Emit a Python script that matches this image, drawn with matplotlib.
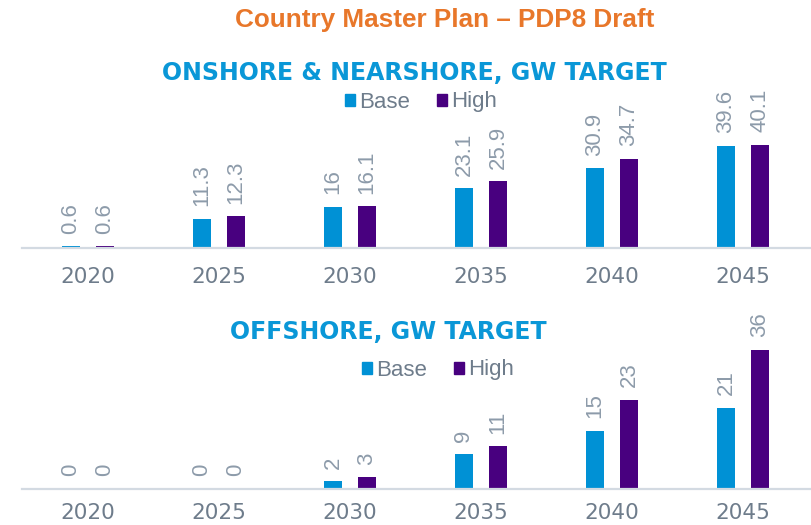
import matplotlib
matplotlib.use('Agg')
import matplotlib.pyplot as plt
import numpy as np


# Data
years = ['2020', '2025', '2030', '2035', '2040', '2045']
onshore_base = [0.6, 11.3, 16, 23.1, 30.9, 39.6]
onshore_high = [0.6, 12.3, 16.1, 25.9, 34.7, 40.1]
offshore_base = [0, 0, 2, 9, 15, 21]
offshore_high = [0, 0, 3, 11, 23, 36]

title = 'Country Master Plan \u2013 PDP8 Draft'
sub_top = 'ONSHORE & NEARSHORE, GW TARGET'
sub_bottom = 'OFFSHORE, GW TARGET'

# Styles
base_color = '#0091D5'
high_color = '#48007F'
label_gray = '#8D9BAA'
tick_gray = '#6E7C8B'
axis_gray = '#D3DAE2'
title_orange = '#E8772A'
sub_blue = '#0A97D7'

plt.rcParams['font.family'] = ['Liberation Sans', 'DejaVu Sans']

fig = plt.figure(figsize=(8.11, 5.25), dpi=100)
W, H = 811, 525


def add_panel(bottom_px, height_px, ymax, base, high, pad):
    ax = fig.add_axes([22 / W, (H - bottom_px) / H, 1 - 22 / W, height_px / H])
    x = np.arange(len(years))
    off = 17 / 131
    bw = 18 / 131
    b1 = ax.bar(x - off, base, bw, color=base_color)
    b2 = ax.bar(x + off, high, bw, color=high_color)
    for bars, vals in ((b1, base), (b2, high)):
        for rect, v in zip(bars, vals):
            ax.annotate(f'{v:g}', (rect.get_x() + rect.get_width() / 2, rect.get_height()),
                        xytext=(0, 9), textcoords='offset points', rotation=90,
                        ha='center', va='bottom', fontsize=16, color=label_gray,
                        annotation_clip=False)
    ax.set_xlim(-66 / 131, -66 / 131 + 789 / 131)
    ax.set_ylim(0, ymax)
    for s in ['top', 'right', 'left']:
        ax.spines[s].set_visible(False)
    ax.spines['bottom'].set_color(axis_gray)
    ax.spines['bottom'].set_linewidth(1.6)
    ax.set_yticks([])
    ax.set_xticks(x)
    ax.set_xticklabels(years, fontsize=15.5, color=tick_gray, family=['DejaVu Sans'])
    ax.tick_params(axis='x', length=0, pad=pad)
    ax.patch.set_alpha(0)
    return ax


ax1 = add_panel(248, 116, 45, onshore_base, onshore_high, 14)
ax2 = add_panel(489, 155, 40, offshore_base, offshore_high, 10)

fig.text(445 / W, 1 - 20 / H, title, ha='center', va='center', fontsize=18.8,
         fontweight='bold', color=title_orange)
fig.text(414 / W, 1 - 73 / H, sub_top, ha='center', va='center', fontsize=17,
         fontweight='bold', color=sub_blue, family=['DejaVu Sans'])
fig.text(388 / W, 1 - 332 / H, sub_bottom, ha='center', va='center', fontsize=17,
         fontweight='bold', color=sub_blue, family=['DejaVu Sans'])


def legend_at(y_px, x_px):
    handles = [plt.Rectangle((0, 0), 1, 1, color=base_color),
               plt.Rectangle((0, 0), 1, 1, color=high_color)]
    fig.legend(handles, ['Base', 'High'], loc='center', ncol=2,
               bbox_to_anchor=(x_px / W, 1 - y_px / H), frameon=False,
               prop={'size': 16}, labelcolor=tick_gray, handlelength=0.45,
               handleheight=0.45, handletextpad=0.2, columnspacing=1.2)


legend_at(102, 421)
legend_at(370, 438)

fig.savefig('out.png', dpi=100)
